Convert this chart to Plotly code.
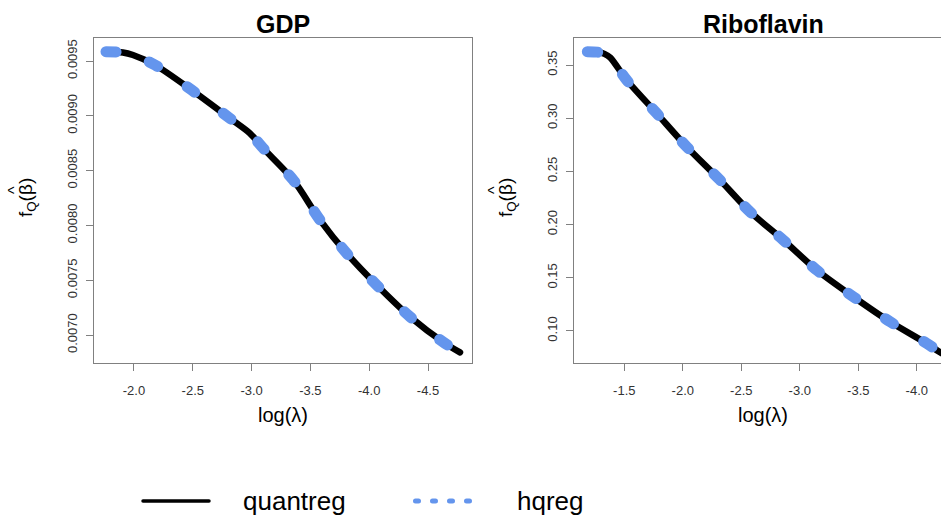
import plotly.graph_objects as go

W, H = 941, 521

# ---------------- data ----------------
gdp_log_lambda = [-1.762, -1.906, -1.991, -2.179, -2.491, -2.816, -2.986, -3.10,
                  -3.355, -3.582, -3.809, -4.064, -4.347, -4.645, -4.772]
gdp_quantreg = [0.009585, 0.009578, 0.009555, 0.009464, 0.009235, 0.008977, 0.008840,
                0.008703, 0.008414, 0.008049, 0.007745, 0.007456, 0.007167, 0.006924, 0.006842]
gdp_hqreg = list(gdp_quantreg)

ribo_log_lambda = [-1.184, -1.280, -1.330, -1.380, -1.520, -1.777, -2.033, -2.318, -2.574,
                   -2.859, -3.144, -3.457, -3.771, -4.085, -4.199, -4.24]
ribo_quantreg = [0.3625, 0.3620, 0.3605, 0.3570, 0.3359, 0.3046, 0.2732, 0.2419, 0.2121,
                 0.1855, 0.1573, 0.1322, 0.1087, 0.0883, 0.0800, 0.0775]
ribo_hqreg = list(ribo_quantreg)

gdp_xticks = [-2.0, -2.5, -3.0, -3.5, -4.0, -4.5]
gdp_xtick_labels = ["-2.0", "-2.5", "-3.0", "-3.5", "-4.0", "-4.5"]
gdp_yticks = [0.0070, 0.0075, 0.0080, 0.0085, 0.0090, 0.0095]
gdp_ytick_labels = ["0.0070", "0.0075", "0.0080", "0.0085", "0.0090", "0.0095"]

ribo_xticks = [-1.5, -2.0, -2.5, -3.0, -3.5, -4.0]
ribo_xtick_labels = ["-1.5", "-2.0", "-2.5", "-3.0", "-3.5", "-4.0"]
ribo_yticks = [0.10, 0.15, 0.20, 0.25, 0.30, 0.35]
ribo_ytick_labels = ["0.10", "0.15", "0.20", "0.25", "0.30", "0.35"]

panel_titles = ["GDP", "Riboflavin"]
series_names = ["quantreg", "hqreg"]

# ---------------- styling ----------------
FONT = "Liberation Sans, Arial, Helvetica, sans-serif"
BLACK = "#000000"
BLUE = "#6495ED"
BOX = "#808080"
TICKTXT = "#333333"


def fx(p):
    return p / W


def fy(p):
    return 1 - p / H


fig = go.Figure()

panels = [
    (gdp_log_lambda, gdp_quantreg, gdp_hqreg, "x", "y"),
    (ribo_log_lambda, ribo_quantreg, ribo_hqreg, "x2", "y2"),
]
for xs, yq, yh, xa, ya in panels:
    fig.add_trace(go.Scatter(x=xs, y=yq, mode="lines", name=series_names[0],
                             line=dict(color=BLACK, width=6.5, shape="spline", smoothing=0.8),
                             xaxis=xa, yaxis=ya, showlegend=False, hoverinfo="skip"))
    fig.add_trace(go.Scatter(x=xs, y=yh, mode="lines", name=series_names[1],
                             line=dict(color=BLUE, width=11, shape="spline", smoothing=0.8,
                                       dash="10px,35px"),
                             xaxis=xa, yaxis=ya, showlegend=False, hoverinfo="skip"))

axis_common = dict(showgrid=False, zeroline=False, ticks="outside", ticklen=7,
                   tickwidth=1, tickcolor=BOX, linecolor=BOX, linewidth=1,
                   tickfont=dict(family=FONT, size=13, color=TICKTXT), showline=True)

y_dom = [fy(363), fy(38)]

fig.update_layout(
    width=W, height=H,
    margin=dict(l=0, r=0, t=0, b=0),
    paper_bgcolor="white", plot_bgcolor="white",
    showlegend=False,
    xaxis=dict(domain=[fx(94), fx(472)], range=[-1.660, -4.874], anchor="y",
               tickvals=gdp_xticks, ticktext=gdp_xtick_labels, mirror=True,
               ticklabelstandoff=8, **axis_common),
    yaxis=dict(domain=y_dom, range=[0.006745, 0.009710], anchor="x",
               tickvals=gdp_yticks, ticktext=gdp_ytick_labels, mirror=True,
               tickangle=-90, ticklabelstandoff=4, **axis_common),
    xaxis2=dict(domain=[fx(574), 1.0], range=[-1.070, -4.207], anchor="y2",
                tickvals=ribo_xticks, ticktext=ribo_xtick_labels, mirror=True,
                ticklabelstandoff=8, **axis_common),
    yaxis2=dict(domain=y_dom, range=[0.0699, 0.3754], anchor="x2",
                tickvals=ribo_yticks, ticktext=ribo_ytick_labels, mirror=False,
                tickangle=-90, ticklabelstandoff=4, **axis_common),
)

annotations = []
for title, cx in zip(panel_titles, [283, 763]):
    annotations.append(dict(text="<b>%s</b>" % title, x=fx(cx), y=fy(24), xref="paper", yref="paper",
                            xanchor="center", yanchor="middle", showarrow=False,
                            font=dict(family=FONT, size=25, color="black")))
    annotations.append(dict(text="log(λ)", x=fx(cx), y=fy(415), xref="paper", yref="paper",
                            xanchor="center", yanchor="middle", showarrow=False,
                            font=dict(family=FONT, size=20, color="black")))
for cx in [27, 507]:
    annotations.append(dict(text="f<sub>Q</sub>(β)", x=fx(cx), y=fy(198), xref="paper", yref="paper",
                            xanchor="center", yanchor="middle", showarrow=False, textangle=-90,
                            font=dict(family=FONT, size=19, color="black")))
    annotations.append(dict(text="^", x=fx(cx - 13), y=fy(190), xref="paper", yref="paper",
                            xanchor="center", yanchor="middle", showarrow=False, textangle=-90,
                            font=dict(family=FONT, size=16, color="black")))

# legend (drawn manually)
annotations.append(dict(text=series_names[0], x=fx(241), y=fy(501), xref="paper", yref="paper",
                        xanchor="left", yanchor="middle", showarrow=False,
                        font=dict(family=FONT, size=26, color="black")))
annotations.append(dict(text=series_names[1], x=fx(515), y=fy(501), xref="paper", yref="paper",
                        xanchor="left", yanchor="middle", showarrow=False,
                        font=dict(family=FONT, size=26, color="black")))
fig.update_layout(annotations=annotations)

shapes = [
    dict(type="line", xref="paper", yref="paper", x0=fx(143), x1=fx(209), y0=fy(501), y1=fy(501),
         line=dict(color=BLACK, width=3.5)),
    dict(type="line", xref="paper", yref="paper", x0=fx(415.5), x1=fx(470), y0=fy(501), y1=fy(501),
         line=dict(color=BLUE, width=5, dash="3px,14px")),
]
fig.update_layout(shapes=shapes)

post = """
document.body.style.margin = '0';
document.body.style.padding = '0';
document.body.style.overflow = 'hidden';
var gd = document.getElementById('{plot_id}');
gd.querySelectorAll('.scatterlayer .js-line, .shapelayer path').forEach(function(p){
  p.style.strokeLinecap = 'round';
});
"""

fig.write_html("out.html", post_script=post, config={"displayModeBar": False})
